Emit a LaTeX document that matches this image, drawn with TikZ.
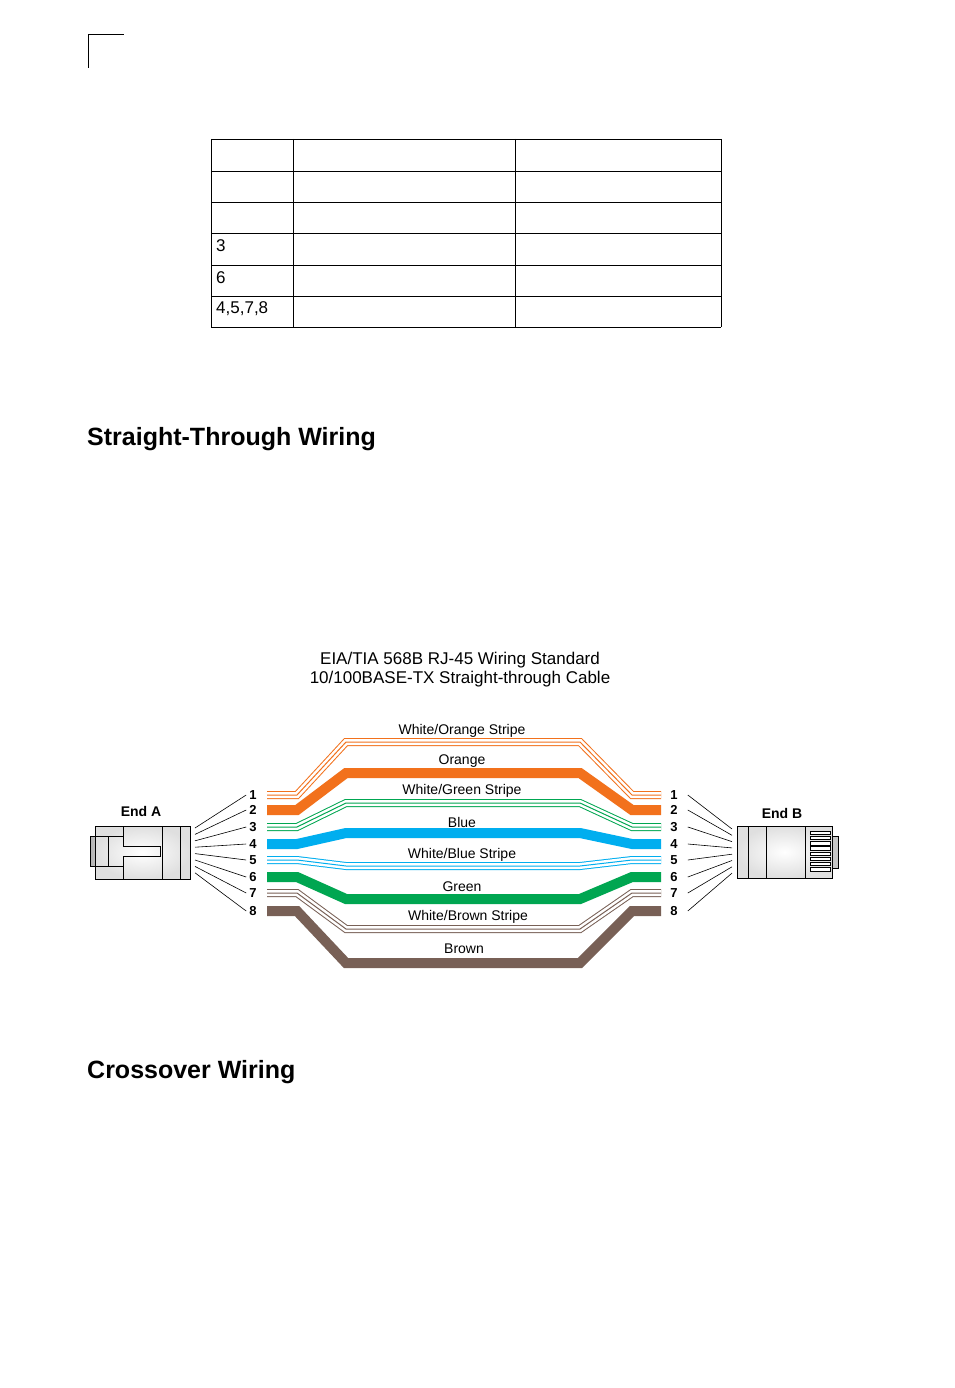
\documentclass[tikz,border=0pt]{standalone}
\usepackage{fontspec}
\usetikzlibrary{calc}
\setmainfont{Liberation Sans}
\definecolor{wor}{RGB}{242,113,28}
\definecolor{wgr}{RGB}{0,166,81}
\definecolor{wbl}{RGB}{0,174,239}
\definecolor{wbr}{RGB}{120,96,86}
\begin{document}
\begin{tikzpicture}[x=1pt,y=-1pt,
  solidw/.style={line width=10pt,draw=#1},
  pin/.style={font=\bfseries\fontsize{13}{13}\selectfont,inner sep=0pt},
  wlab/.style={font=\fontsize{14}{14}\selectfont,inner sep=0pt},
  head/.style={font=\bfseries\fontsize{25}{25}\selectfont,anchor=west,inner sep=0pt},
  fan/.style={line width=0.6pt}]
\useasboundingbox (0,0) rectangle (954,1388);
\fill[white] (0,0) rectangle (954,1388);
\draw[line width=0.8pt] (88,68) -- (88,34) -- (124,34);
% table
\foreach \y in {139,171,202,233,265,296,327} \draw[line width=0.9pt] (211,\y) -- (721,\y);
\foreach \x in {211,293,515,721} \draw[line width=0.9pt] (\x,139) -- (\x,327);
\foreach \t/\y in {3/246,6/278,{4,5,7,8}/309}
  \node[anchor=west,font=\fontsize{17}{17}\selectfont,inner sep=0pt] at (216,\y) {\t};
\node[head] (h1) at (87,439) {Straight-Through Wiring};
\node[head] (h2) at (87,1072) {Crossover Wiring};
\node[font=\fontsize{17}{17}\selectfont,align=center] (title) at (460,670) {EIA/TIA 568B RJ-45 Wiring Standard\\[2pt]10/100BASE-TX Straight-through Cable};
% wires
\foreach \c/\a/\m [count=\i] in {wor/795/742, wor/810/773, wgr/827/803, wbl/844/833, wbl/860/866, wgr/877/899, wbr/893/929, wbr/911/963}{
  \coordinate (L\i) at (267,\a);
  \coordinate (R\i) at (661,\a);
  \ifodd\i
    \draw[line width=8pt,draw=\c] (L\i) -- (297,\a) -- (346,\m) -- (580,\m) -- (632,\a) -- (R\i);
    \draw[line width=6pt,draw=white] (L\i) -- (297,\a) -- (346,\m) -- (580,\m) -- (632,\a) -- (R\i);
    \draw[line width=1pt,draw=\c] (L\i) -- (297,\a) -- (346,\m) -- (580,\m) -- (632,\a) -- (R\i);
  \else
    \draw[solidw=\c] (L\i) -- (297,\a) -- (346,\m) -- (580,\m) -- (632,\a) -- (R\i);
  \fi
  \node[pin] (pa\i) at (253,\a) {\i};
  \node[pin] (pb\i) at (674,\a) {\i};
}
\node[wlab] at (462,731) {White/Orange Stripe};
\node[wlab] at (462,761) {Orange};
\node[wlab] at (462,791) {White/Green Stripe};
\node[wlab] at (462,822) {Blue};
\node[wlab] at (462,855) {White/Blue Stripe};
\node[wlab] at (462,887) {Green};
\node[wlab] at (468,917) {White/Brown Stripe};
\node[wlab] at (464,949) {Brown};
% End A connector
\node[font=\bfseries\fontsize{14}{14}\selectfont] at (141,811) {End A};
\shade[left color=gray!60,right color=gray!25,draw=black,line width=0.5pt] (90,836) rectangle (108,866);
\shade[inner color=white,outer color=gray!25,draw=black,line width=0.8pt] (95,826) rectangle (190,879);
\draw[line width=0.6pt] (108,836) -- (108,866);
\draw[line width=0.6pt] (95,836) -- (123,836) -- (123,846) -- (160,846) -- (160,856) -- (123,856) -- (123,866) -- (95,866);
\draw[line width=0.6pt] (123,826) -- (123,836) (123,866) -- (123,879);
\draw[line width=0.6pt] (162,826) -- (162,879) (180,826) -- (180,879);
\foreach \i in {1,...,8}{
  \coordinate (fa\i) at (195,828+6.4*\i-6.4);
  \draw[fan] (fa\i) -- ($(pa\i.west)+(-3,0)$);
}
% End B connector
\node[font=\bfseries\fontsize{14}{14}\selectfont] at (782,813) {End B};
\fill[gray!45,draw=black,line width=0.5pt] (832,836) rectangle (838,868);
\shade[inner color=white,outer color=gray!25,draw=black,line width=0.8pt] (737,826) rectangle (832,878);
\draw[line width=0.6pt] (748,826) -- (748,878) (766,826) -- (766,878) (805,826) -- (805,878);
\foreach \k in {0,...,7} \draw[line width=0.6pt,fill=white] (810,831+5.2*\k) rectangle (830,834.5+5.2*\k);
\foreach \i in {1,...,8}{
  \coordinate (fb\i) at (732,829+6.3*\i-6.3);
  \draw[fan] ($(pb\i.east)+(10,0)$) -- (fb\i);
}
\end{tikzpicture}
\end{document}
